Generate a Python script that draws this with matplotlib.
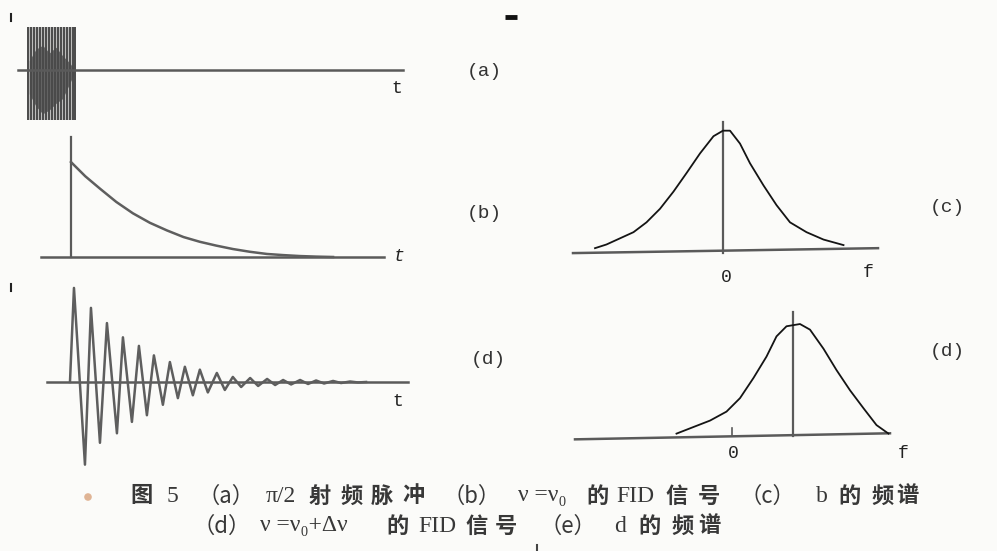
import matplotlib
matplotlib.use("Agg")
import matplotlib.pyplot as plt

W, H = 997, 551

# (a) pi/2 RF pulse: stroke positions and envelope (time units, amplitude units)
pulse_t = [-1.30, -1.21, -1.12, -1.03, -0.94, -0.85, -0.76, -0.67, -0.58,
           -0.49, -0.40, -0.31, -0.22, -0.13, -0.04, 0.05, 0.11]
pulse_top = 0.45
pulse_bottom = -0.52
core_t = [-1.25, -1.05, -0.85, -0.65, -0.45, -0.25, -0.05, 0.08]
core_hi = [0.10, 0.22, 0.26, 0.18, 0.24, 0.15, 0.08, 0.02]
core_lo = [-0.25, -0.38, -0.46, -0.42, -0.35, -0.30, -0.15, -0.05]

# (b) FID at nu = nu0: exponential decay
fid_b_t = [0.0, 0.43, 0.87, 1.36, 1.86, 2.37, 2.88, 3.38, 3.87, 4.36,
           4.86, 5.37, 5.88, 6.37, 6.87, 7.37, 7.87]
fid_b_y = [1.0, 0.85, 0.72, 0.58, 0.46, 0.36, 0.28, 0.21, 0.16, 0.12,
           0.084, 0.055, 0.032, 0.02, 0.01, 0.004, 0.0]

# (d) FID at nu = nu0 + dnu: damped oscillation turning points
fid_d_t = [0.0, 0.12, 0.45, 0.63, 0.90, 1.11, 1.41, 1.59, 1.86, 2.07,
           2.31, 2.52, 2.79, 3.00, 3.24, 3.45, 3.69, 3.90, 4.14, 4.41,
           4.65, 4.89, 5.14, 5.41, 5.65, 5.92, 6.16, 6.40, 6.64, 6.91,
           7.15, 7.39, 7.63, 7.90, 8.14, 8.41, 8.65, 8.89]
fid_d_y = [0.0, 0.99, -0.87, 0.78, -0.64, 0.62, -0.54, 0.47, -0.42, 0.38,
           -0.35, 0.28, -0.24, 0.21, -0.17, 0.16, -0.14, 0.13, -0.11, 0.095,
           -0.084, 0.053, -0.053, 0.042, -0.042, 0.032, -0.032, 0.021, -0.026, 0.021,
           -0.021, 0.016, -0.016, 0.011, -0.011, 0.005, -0.005, 0.0]

# (c) spectrum of b
spec_c_f = [-2.56, -2.33, -2.06, -1.79, -1.53, -1.26, -0.99, -0.73, -0.46,
            -0.19, 0.0, 0.14, 0.34, 0.54, 0.81, 1.07, 1.34, 1.67, 2.01, 2.41]
spec_c_y = [0.04, 0.07, 0.12, 0.17, 0.25, 0.36, 0.50, 0.65, 0.81,
            0.95, 0.995, 0.995, 0.89, 0.73, 0.55, 0.39, 0.25, 0.17, 0.11, 0.065]

# (e) spectrum of d, shifted by dnu
spec_e_f = [-1.11, -0.77, -0.44, -0.11, 0.16, 0.43, 0.69, 0.89, 1.09,
            1.36, 1.56, 1.83, 2.09, 2.36, 2.63, 2.89, 3.13]
spec_e_y = [0.024, 0.083, 0.14, 0.22, 0.34, 0.52, 0.71, 0.89, 0.98,
            1.0, 0.95, 0.78, 0.59, 0.41, 0.25, 0.10, 0.024]
shift_f = 1.22

panel_labels = ["(a)", "(b)", "(c)", "(d)", "(d)"]

# caption pieces: (left x in px, text, font kind, char pitch for CJK runs)
caption_1 = [(130, "图", "cjk", 0), (167, "5", "lat", 0), (197, "（a）", "cjk", 0),
             (266, "π/2", "lat", 0), (309, "射频脉冲", "cjk", 31),
             (442, "（b）", "cjk", 0), (518, "ν =ν₀", "lat", 0),
             (586, "的", "cjk", 0), (616, "FID", "lat", 0),
             (665, "信号", "cjk", 33), (739, "（c）", "cjk", 0),
             (816, "b", "lat", 0), (838, "的", "cjk", 0), (871, "频谱", "cjk", 25)]
caption_2 = [(192, "（d）", "cjk", 0), (260, "ν =ν₀+Δν", "lat", 0),
             (386, "的", "cjk", 0), (418, "FID", "lat", 0),
             (465, "信号", "cjk", 30), (539, "（e）", "cjk", 0),
             (614, "d", "lat", 0), (638, "的", "cjk", 0), (671, "频谱", "cjk", 27)]

paper = "#fbfbf9"
axis_col = "#5a5a5a"
fid_col = "#5e5e5e"
spec_col = "#141414"
text_col = "#383838"
mono = ["Liberation Mono", "DejaVu Sans Mono"]
serif = ["Liberation Serif", "DejaVu Serif"]
cjk = ["Noto Sans CJK SC", "DejaVu Sans"]

fig = plt.figure(figsize=(W / 100, H / 100), dpi=100, facecolor=paper)


def add_panel(left, top, right, bottom, xlim, ylim):
    ax = fig.add_axes([left / W, 1 - bottom / H, (right - left) / W, (bottom - top) / H])
    ax.set_xlim(*xlim)
    ax.set_ylim(*ylim)
    ax.axis("off")
    ax.patch.set_alpha(0)
    return ax


# scanner marks and the orange dot next to the caption
deco = fig.add_axes([0, 0, 1, 1])
deco.set_xlim(0, W)
deco.set_ylim(H, 0)
deco.axis("off")
deco.patch.set_alpha(0)
deco.plot([505, 517], [17, 17], color="#111", lw=3.5, solid_capstyle="butt")
deco.plot([11, 11], [14, 21], color="#222", lw=1.5)
deco.plot([11, 11], [284, 291], color="#222", lw=1.5)
deco.plot([537, 537], [545, 551], color="#444", lw=1.5)
deco.scatter([88], [497], s=30, color="#d9a27c", alpha=0.8, edgecolors="none")

# (a) RF pulse
ax_a = add_panel(10, 20, 410, 130, (-1.83, 10.18), (-0.63, 0.526))
ax_a.fill_between([pulse_t[0], pulse_t[-1]], pulse_bottom, pulse_top,
                  color="#8a8a8a", alpha=0.55, lw=0)
ax_a.vlines(pulse_t, pulse_bottom, pulse_top, color="#4a4a4a", lw=1.4)
ax_a.fill_between(core_t, core_lo, core_hi, color="#333333", alpha=0.65, lw=0)
ax_a.plot([-1.59, 9.97], [0, 0], color=axis_col, lw=1.8)
ax_a.text(9.79, -0.19, "t", family=mono, fontsize=13, color="#222",
          ha="center", va="center")

# (b) FID, on resonance
ax_b = add_panel(40, 125, 410, 270, (-0.93, 10.18), (-0.137, 1.39))
ax_b.plot([-0.9, 9.4], [0, 0], color=axis_col, lw=1.8)
ax_b.plot([0, 0], [0, 1.26], color=axis_col, lw=1.6)
ax_b.plot(fid_b_t, fid_b_y, color=fid_col, lw=1.8)
ax_b.text(9.85, 0.0, "t", family=mono, style="italic", fontsize=13,
          color="#222", ha="center", va="center")

# (d) FID, off resonance
ax_d = add_panel(40, 275, 410, 475, (-0.90, 10.21), (-0.979, 1.126))
ax_d.plot([-0.69, 10.15], [0, 0], color=axis_col, lw=1.8)
ax_d.plot(fid_d_t, fid_d_y, color=fid_col, lw=1.8)
ax_d.text(9.85, -0.21, "t", family=mono, fontsize=13, color="#222",
          ha="center", va="center")

# (c) spectrum centred on zero
ax_c = add_panel(560, 110, 900, 290, (-3.26, 3.54), (-0.30, 1.163))
ax_c.plot([-3.0, 3.1], [0, 0.04], color=axis_col, lw=1.8)
ax_c.plot([0, 0], [0, 1.065], color=axis_col, lw=1.6)
ax_c.plot(spec_c_f, spec_c_y, color=spec_col, lw=1.3)
ax_c.text(0.06, -0.20, "0", family=mono, fontsize=13, color="#222",
          ha="center", va="center")
ax_c.text(2.9, -0.154, "f", family=mono, fontsize=13, color="#222",
          ha="center", va="center")

# (e) spectrum shifted by dnu
ax_e = add_panel(560, 300, 920, 470, (-3.44, 3.76), (-0.30, 1.214))
ax_e.plot([-3.14, 3.16], [-0.027, 0.027], color=axis_col, lw=1.8)
ax_e.plot([shift_f, shift_f], [0, 1.107], color=axis_col, lw=1.6)
ax_e.plot([0, 0], [0, 0.07], color=axis_col, lw=1.2)
ax_e.plot(spec_e_f, spec_e_y, color=spec_col, lw=1.3)
ax_e.text(0.02, -0.15, "0", family=mono, fontsize=13, color="#222",
          ha="center", va="center")
ax_e.text(3.42, -0.15, "f", family=mono, fontsize=13, color="#222",
          ha="center", va="center")

# panel letters
label_pos = [(484, 72), (484, 214), (947, 208), (488, 359), (947, 352)]
for lab, (px, py) in zip(panel_labels, label_pos):
    fig.text(px / W, 1 - py / H, lab, family=mono, fontsize=14, color="#333",
             ha="center", va="center")


# caption, two lines
def draw_caption(pieces, py):
    for px, s, kind, pitch in pieces:
        if kind == "lat":
            fig.text(px / W, 1 - py / H, s, family=serif, fontsize=17,
                     color=text_col, ha="left", va="center")
        elif s.startswith("（"):
            fig.text(px / W, 1 - py / H, s, family=cjk, fontsize=16,
                     color=text_col, ha="left", va="center")
        else:
            chars = s if pitch else [s]
            for i, ch in enumerate(chars):
                fig.text((px + i * pitch) / W, 1 - py / H, ch, family=cjk,
                         fontsize=16, color=text_col, weight="bold",
                         ha="left", va="center")


draw_caption(caption_1, 496)
draw_caption(caption_2, 526)

fig.savefig("out.png", dpi=100, facecolor=paper)
